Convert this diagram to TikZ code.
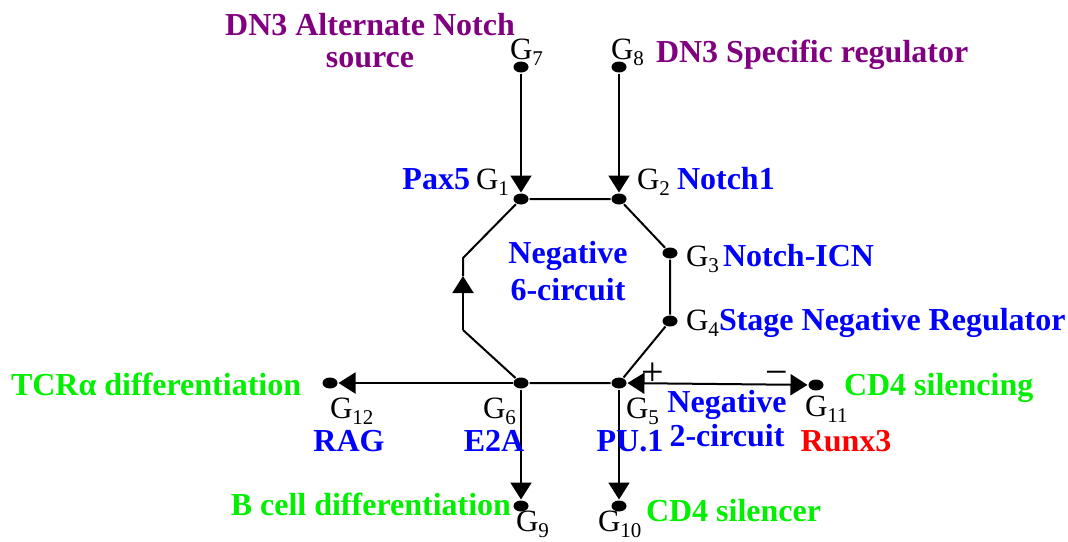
\documentclass[tikz,border=0pt]{standalone}
\usepackage{fontspec}
\setmainfont{Liberation Serif}
\usepackage{xcolor}
\usetikzlibrary{arrows.meta,shapes.geometric}

\definecolor{dnpurple}{RGB}{128,0,128}
\definecolor{cblue}{RGB}{0,0,255}
\definecolor{dgreen}{RGB}{0,240,0}
\definecolor{rred}{RGB}{255,0,0}
\newcommand{\gname}[1]{G\raisebox{-0.2em}{\fontsize{21}{21}\selectfont #1}}

\begin{document}
\begin{tikzpicture}[
  x=1pt, y=-1pt,
  font=\fontsize{32}{32}\selectfont\bfseries,
  line width=2pt,
  dot/.style={ellipse, fill, minimum width=15pt, minimum height=11pt, inner sep=0pt},
  gl/.style={font=\fontsize{31}{31}\selectfont\mdseries, inner sep=0pt, anchor=base west},
  lbl/.style={inner sep=0pt, anchor=base west},
  mid/.style={inner sep=0pt, anchor=base, align=center},
  >={Triangle[length=17pt,width=21pt]}
]
\useasboundingbox (0,0) rectangle (1068,541);

% genes
\node[dot] (g7) at (521,67) {};
\node[dot] (g8) at (619,67) {};
\node[dot] (g1) at (521,199) {};
\node[dot] (g2) at (619,199) {};
\node[dot] (g3) at (670,253) {};
\node[dot] (g4) at (670,321) {};
\node[dot] (g5) at (619,383) {};
\node[dot] (g6) at (521,383) {};
\node[dot] (g12) at (330,383) {};
\node[dot] (g11) at (816,385) {};
\node[dot] (g9) at (521,506) {};
\node[dot] (g10) at (619,506) {};
\coordinate (cb) at (463,330);
\coordinate (cm) at (463,276);
\coordinate (ct) at (463,258);

% negative 6-circuit
\draw (g1) -- (g2) -- (g3) -- (g4) -- (g5) -- (g6) -- (cb);
\draw[->] (cb) -- (cm);
\draw (cm) -- (ct) -- (g1);

% other interactions
\draw[->] (g7) -- (g1);
\draw[->] (g8) -- (g2);
\draw[->] (g6) -- (g12);
\draw[<->] (g5) -- (g11);
\draw[->] (g6) -- (g9);
\draw[->] (g5) -- (g10);

% gene names
\node[gl] (n7) at (509,59) {\gname{7}};
\node[gl] (n8) at (610,59) {\gname{8}};
\node[gl] (n1) at (475,189) {\gname{1}};
\node[gl] (n2) at (636,189) {\gname{2}};
\node[gl] (n3) at (685,266) {\gname{3}};
\node[gl] (n4) at (685,330) {\gname{4}};
\node[gl] (n12) at (329,418) {\gname{12}};
\node[gl] (n6) at (482,418) {\gname{6}};
\node[gl] (n5) at (625,418) {\gname{5}};
\node[gl] (n11) at (804,416) {\gname{11}};
\node[gl] (n9) at (515,531) {\gname{9}};
\node[gl] (n10) at (597,531) {\gname{10}};

% labels
\node[mid, text=dnpurple, font=\fontsize{32}{32}\selectfont\bfseries] (alt) at (370,67)
  {DN3 Alternate Notch\\source};
\node[lbl, text=dnpurple] (spec) at (655,62) {DN3 Specific regulator};
\node[lbl, text=cblue, anchor=base east] (pax) at (471,189) {Pax5};
\node[lbl, text=cblue] (notch) at (676,189) {Notch1};
\node[lbl, text=cblue] (icn) at (722,266) {Notch-ICN};
\node[lbl, text=cblue] (stage) at (718,330) {Stage Negative Regulator};
\node[mid, text=cblue, font=\fontsize{32}{37}\selectfont\bfseries] (c6) at (568,300)
  {Negative\\6-circuit};
\node[mid, text=cblue, font=\fontsize{32}{34}\selectfont\bfseries] (c2) at (727,446)
  {Negative\\2-circuit};
\node[lbl, text=dgreen] (tcr) at (10,395) {TCRα differentiation};
\node[lbl, text=dgreen] (cd4s) at (843,395) {CD4 silencing};
\node[mid, text=cblue] (rag) at (349,451) {RAG};
\node[mid, text=cblue] (e2a) at (494,451) {E2A};
\node[mid, text=cblue] (pu) at (630,451) {PU.1};
\node[mid, text=rred] (runx) at (846,451) {Runx3};
\node[lbl, text=dgreen, anchor=base east] (bcell) at (512,515) {B cell differentiation};
\node[lbl, text=dgreen] (cd4r) at (645,521) {CD4 silencer};
\node[mid, font=\fontsize{40}{40}\selectfont\mdseries] (plus) at (653,385) {+};
\node[mid, font=\fontsize{40}{40}\selectfont\mdseries] (minus) at (777,385) {−};
\end{tikzpicture}
\end{document}
